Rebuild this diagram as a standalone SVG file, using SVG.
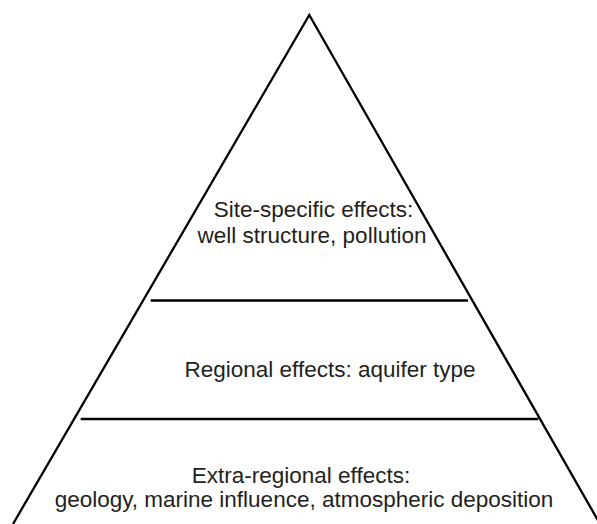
<svg xmlns="http://www.w3.org/2000/svg" width="597" height="524" viewBox="0 0 597 524">
<style>
.ln{stroke:#000;stroke-width:2.3;fill:none}
.t{font-family:"Liberation Sans",Arial,sans-serif;font-size:22.5px;fill:#231f20;text-anchor:middle}
</style>
<rect width="597" height="524" fill="#fff"/>
<g id="connectors">
<path class="ln" d="M13,524 L309.3,15 L600,524"/>
<line class="ln" x1="150.7" y1="300.5" x2="468" y2="300.5"/>
<line class="ln" x1="80.7" y1="419" x2="538.3" y2="419"/>
</g>
<g id="site">
<text class="t" x="313.5" y="217">Site-specific effects:</text>
<text class="t" x="312" y="243">well structure, pollution</text>
</g>
<g id="regional">
<text class="t" x="330" y="376.5">Regional effects: aquifer type</text>
</g>
<g id="extra">
<text class="t" x="301" y="483">Extra-regional effects:</text>
<text class="t" x="304" y="507">geology, marine influence, atmospheric deposition</text>
</g>
</svg>
